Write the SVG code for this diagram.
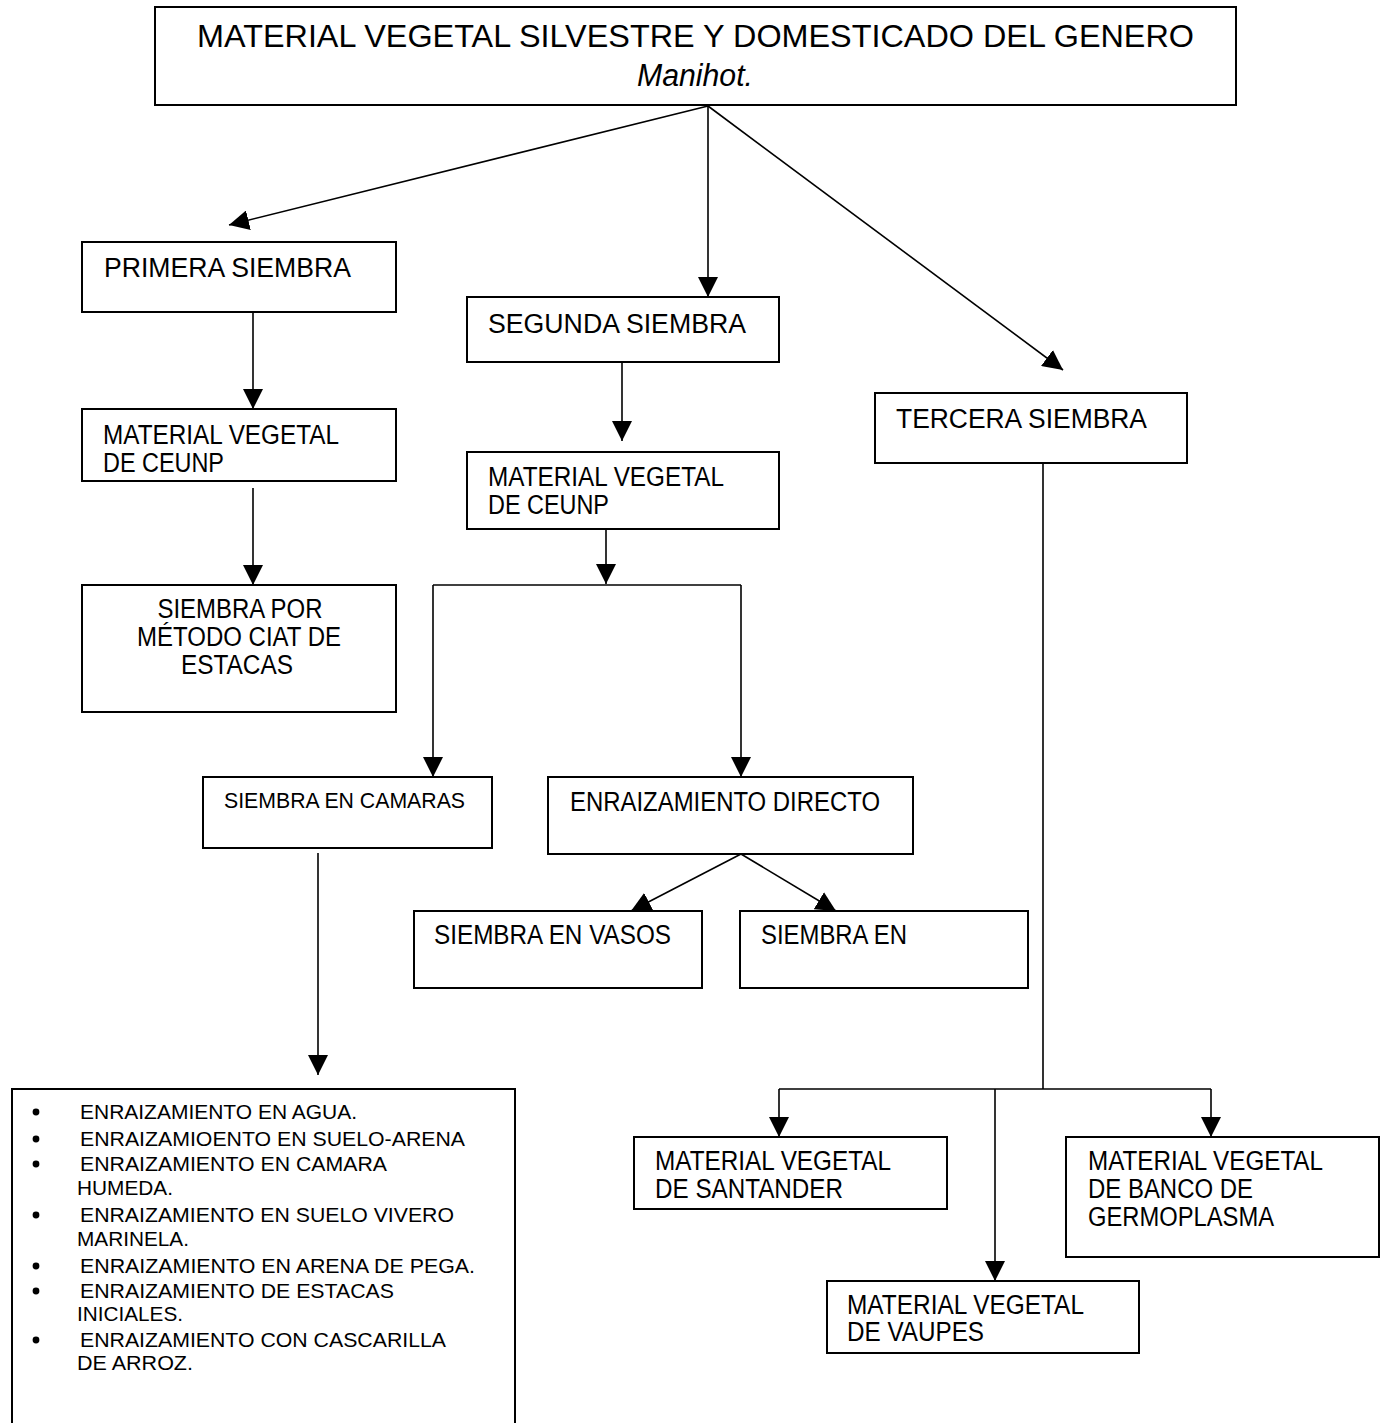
<svg xmlns="http://www.w3.org/2000/svg" width="1389" height="1423" viewBox="0 0 1389 1423">
<style>
.box{fill:#fff;stroke:#000;stroke-width:2}
.t{font-family:"Liberation Sans",Arial,sans-serif;font-size:27px;fill:#000}
.s{font-family:"Liberation Sans",Arial,sans-serif;font-size:22px;fill:#000}
.b{font-family:"Liberation Sans",Arial,sans-serif;font-size:20px;fill:#000}
.ttl{font-family:"Liberation Sans",Arial,sans-serif;font-size:31px;fill:#000}
.c{fill:none;stroke:#000;stroke-width:1.6}
.ca{fill:none;stroke:#000;stroke-width:1.6;marker-end:url(#ah)}
</style>
<defs>
<marker id="ah" markerUnits="userSpaceOnUse" markerWidth="20" markerHeight="20" refX="20" refY="10" orient="auto" viewBox="0 0 20 20">
<path d="M0,0 L20,10 L0,20 Z" fill="#000"/>
</marker>
</defs>
<rect width="1389" height="1423" fill="#fff"/>
<g id="connectors">
<path class="ca" d="M708,106 L229,225"/>
<path class="ca" d="M708,106 L708,297"/>
<path class="ca" d="M708,106 L1063,370"/>
<path class="ca" d="M253,312 L253,409"/>
<path class="ca" d="M253,488 L253,585"/>
<path class="ca" d="M622,355 L622,441"/>
<path class="ca" d="M606,529 L606,584"/>
<path class="c" d="M433,585 L741,585"/>
<path class="ca" d="M433,585 L433,777"/>
<path class="ca" d="M741,585 L741,777"/>
<path class="ca" d="M741,854 L631,911"/>
<path class="ca" d="M741,854 L836,911"/>
<path class="ca" d="M318,853 L318,1075"/>
<path class="c" d="M1043,463 L1043,1089 M779,1089 L1211,1089"/>
<path class="ca" d="M779,1089 L779,1137"/>
<path class="ca" d="M995,1089 L995,1281"/>
<path class="ca" d="M1211,1089 L1211,1137"/>
</g>
<g id="n-root">
<rect class="box" x="155" y="7" width="1081" height="98"/>
<text class="ttl" x="695.5" y="47" text-anchor="middle" textLength="997" lengthAdjust="spacingAndGlyphs">MATERIAL VEGETAL SILVESTRE Y DOMESTICADO DEL GENERO</text>
<text class="ttl" x="695" y="86" text-anchor="middle" font-style="italic" textLength="116" lengthAdjust="spacingAndGlyphs">Manihot.</text>
</g>
<g id="n-primera">
<rect class="box" x="82" y="242" width="314" height="70"/>
<text class="t" x="104" y="277" textLength="247" lengthAdjust="spacingAndGlyphs">PRIMERA SIEMBRA</text>
</g>
<g id="n-mv-ceunp-1">
<rect class="box" x="82" y="409" width="314" height="72"/>
<text class="t" x="103" y="444" textLength="236" lengthAdjust="spacingAndGlyphs">MATERIAL VEGETAL</text>
<text class="t" x="103" y="472" textLength="121" lengthAdjust="spacingAndGlyphs">DE CEUNP</text>
</g>
<g id="n-metodo-ciat">
<rect class="box" x="82" y="585" width="314" height="127"/>
<text class="t" x="240" y="618" text-anchor="middle" textLength="165" lengthAdjust="spacingAndGlyphs">SIEMBRA POR</text>
<text class="t" x="239" y="646" text-anchor="middle" textLength="204" lengthAdjust="spacingAndGlyphs">MÉTODO CIAT DE</text>
<text class="t" x="237" y="674" text-anchor="middle" textLength="112" lengthAdjust="spacingAndGlyphs">ESTACAS</text>
</g>
<g id="n-segunda">
<rect class="box" x="467" y="297" width="312" height="65"/>
<text class="t" x="488" y="333" textLength="258" lengthAdjust="spacingAndGlyphs">SEGUNDA SIEMBRA</text>
</g>
<g id="n-mv-ceunp-2">
<rect class="box" x="467" y="452" width="312" height="77"/>
<text class="t" x="488" y="486" textLength="236" lengthAdjust="spacingAndGlyphs">MATERIAL VEGETAL</text>
<text class="t" x="488" y="514" textLength="121" lengthAdjust="spacingAndGlyphs">DE CEUNP</text>
</g>
<g id="n-camaras">
<rect class="box" x="203" y="777" width="289" height="71"/>
<text class="s" x="224" y="808" textLength="241" lengthAdjust="spacingAndGlyphs">SIEMBRA EN CAMARAS</text>
</g>
<g id="n-directo">
<rect class="box" x="548" y="777" width="365" height="77"/>
<text class="t" x="570" y="811" textLength="310" lengthAdjust="spacingAndGlyphs">ENRAIZAMIENTO DIRECTO</text>
</g>
<g id="n-vasos">
<rect class="box" x="414" y="911" width="288" height="77"/>
<text class="t" x="434" y="944" textLength="237" lengthAdjust="spacingAndGlyphs">SIEMBRA EN VASOS</text>
</g>
<g id="n-siembra-en">
<rect class="box" x="740" y="911" width="288" height="77"/>
<text class="t" x="761" y="944" textLength="146" lengthAdjust="spacingAndGlyphs">SIEMBRA EN</text>
</g>
<g id="n-lista">
<path class="box" d="M12,1423 L12,1089 L515,1089 L515,1423" fill="none"/>
<g fill="#000">
<circle cx="36" cy="1112" r="3.4"/>
<circle cx="36" cy="1139" r="3.4"/>
<circle cx="36" cy="1164" r="3.4"/>
<circle cx="36" cy="1215" r="3.4"/>
<circle cx="36" cy="1266" r="3.4"/>
<circle cx="36" cy="1291" r="3.4"/>
<circle cx="36" cy="1340" r="3.4"/>
</g>
<text class="b" x="80" y="1119" textLength="277" lengthAdjust="spacingAndGlyphs">ENRAIZAMIENTO EN AGUA.</text>
<text class="b" x="80" y="1146" textLength="385" lengthAdjust="spacingAndGlyphs">ENRAIZAMIOENTO EN SUELO-ARENA</text>
<text class="b" x="80" y="1171" textLength="307" lengthAdjust="spacingAndGlyphs">ENRAIZAMIENTO EN CAMARA</text>
<text class="b" x="77" y="1195" textLength="96" lengthAdjust="spacingAndGlyphs">HUMEDA.</text>
<text class="b" x="80" y="1222" textLength="374" lengthAdjust="spacingAndGlyphs">ENRAIZAMIENTO EN SUELO VIVERO</text>
<text class="b" x="77" y="1246" textLength="112" lengthAdjust="spacingAndGlyphs">MARINELA.</text>
<text class="b" x="80" y="1273" textLength="395" lengthAdjust="spacingAndGlyphs">ENRAIZAMIENTO EN ARENA DE PEGA.</text>
<text class="b" x="80" y="1298" textLength="314" lengthAdjust="spacingAndGlyphs">ENRAIZAMIENTO DE ESTACAS</text>
<text class="b" x="77" y="1321" textLength="106" lengthAdjust="spacingAndGlyphs">INICIALES.</text>
<text class="b" x="80" y="1347" textLength="366" lengthAdjust="spacingAndGlyphs">ENRAIZAMIENTO CON CASCARILLA</text>
<text class="b" x="77" y="1370" textLength="116" lengthAdjust="spacingAndGlyphs">DE ARROZ.</text>
</g>
<g id="n-tercera">
<rect class="box" x="875" y="393" width="312" height="70"/>
<text class="t" x="896" y="428" textLength="251" lengthAdjust="spacingAndGlyphs">TERCERA SIEMBRA</text>
</g>
<g id="n-santander">
<rect class="box" x="634" y="1137" width="313" height="72"/>
<text class="t" x="655" y="1170" textLength="236" lengthAdjust="spacingAndGlyphs">MATERIAL VEGETAL</text>
<text class="t" x="655" y="1198" textLength="188" lengthAdjust="spacingAndGlyphs">DE SANTANDER</text>
</g>
<g id="n-banco">
<rect class="box" x="1066" y="1137" width="313" height="120"/>
<text class="t" x="1088" y="1170" textLength="235" lengthAdjust="spacingAndGlyphs">MATERIAL VEGETAL</text>
<text class="t" x="1088" y="1198" textLength="165" lengthAdjust="spacingAndGlyphs">DE BANCO DE</text>
<text class="t" x="1088" y="1226" textLength="186" lengthAdjust="spacingAndGlyphs">GERMOPLASMA</text>
</g>
<g id="n-vaupes">
<rect class="box" x="827" y="1281" width="312" height="72"/>
<text class="t" x="847" y="1314" textLength="237" lengthAdjust="spacingAndGlyphs">MATERIAL VEGETAL</text>
<text class="t" x="847" y="1341" textLength="137" lengthAdjust="spacingAndGlyphs">DE VAUPES</text>
</g>
</svg>
